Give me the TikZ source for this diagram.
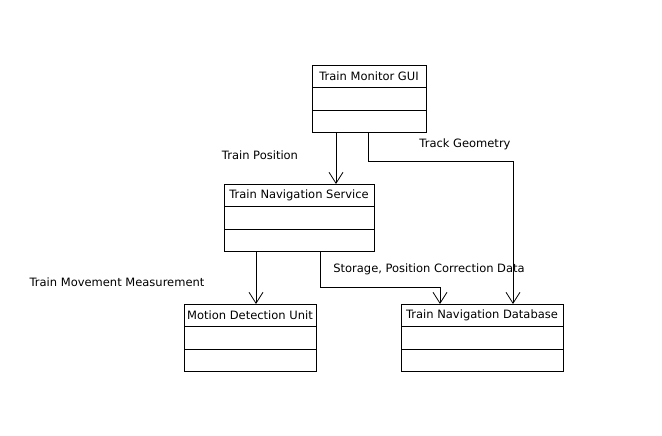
\documentclass[tikz,border=0pt]{standalone}
\usepackage{fontspec}
\setmainfont{DejaVu Sans}
\usetikzlibrary{arrows.meta,positioning}

\begin{document}
\begin{tikzpicture}[
    x=1pt, y=-1pt,
    node distance=0pt,
    font=\fontsize{11.5}{13}\selectfont,
    classbox/.style={
        rectangle, draw, line width=0.8pt,
        minimum height=22.5pt, inner sep=0pt, outer sep=0pt
    },
    guibox/.style={classbox, minimum width=114pt},
    servicebox/.style={classbox, minimum width=150pt},
    unitbox/.style={classbox, minimum width=132pt},
    dbbox/.style={classbox, minimum width=162pt},
    arrow/.style={-{Straight Barb[length=11pt,width=14pt]}, line width=0.8pt},
    flowlabel/.style={inner sep=0pt}
]
\useasboundingbox (0,0) rectangle (662,436);

\node[guibox, anchor=north] (gui) at (369,65) {Train Monitor GUI};
\node[guibox, below=of gui]   (gui-a) {};
\node[guibox, below=of gui-a] (gui-b) {};

\node[servicebox, anchor=north] (tns) at (299,184) {Train Navigation Service};
\node[servicebox, below=of tns]   (tns-a) {};
\node[servicebox, below=of tns-a] (tns-b) {};

\node[unitbox, anchor=north] (mdu) at (250,304) {Motion Detection Unit};
\node[unitbox, below=of mdu]   (mdu-a) {};
\node[unitbox, below=of mdu-a] (mdu-b) {};

\node[dbbox, anchor=north] (db) at (482,304) {Train Navigation Database};
\node[dbbox, below=of db]   (db-a) {};
\node[dbbox, below=of db-a] (db-b) {};

\node[flowlabel] (pos-lbl)   at (260,155) {Train Position};
\node[flowlabel] (track-lbl) at (465,144) {Track Geometry};
\node[flowlabel] (move-lbl)  at (117,282) {Train Movement Measurement};
\node[flowlabel] (store-lbl) at (429,269) {Storage, Position Correction Data};

\draw[arrow] ([xshift=-33pt]gui-b.south) -- ([xshift=-33pt]gui-b.south |- tns.north);
\draw[arrow] ([xshift=-1pt]gui-b.south) -- ++(0,29) -| ([xshift=31pt]db.north);
\draw[arrow] ([xshift=-43pt]tns-b.south) -- ([xshift=-43pt]tns-b.south |- mdu.north);
\draw[arrow] ([xshift=21pt]tns-b.south) -- ++(0,36) -| ([xshift=-42pt]db.north);
\end{tikzpicture}
\end{document}
